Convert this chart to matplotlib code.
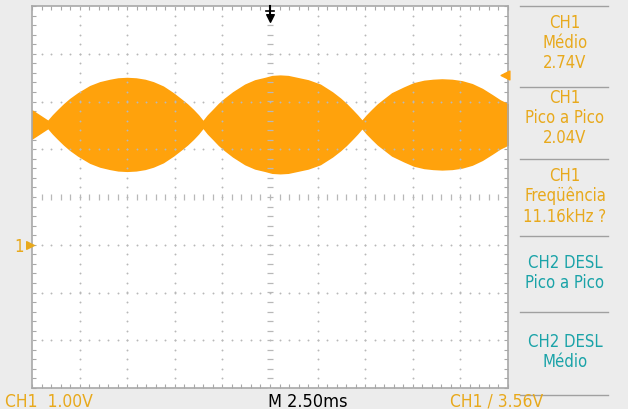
import matplotlib
matplotlib.use("Agg")
import matplotlib.pyplot as plt
from matplotlib.ticker import MultipleLocator
from matplotlib.lines import Line2D
import numpy as np

# ---- data (time in ms, voltage in V relative to CH1 ground) ----
time_ms = [0.00, 0.42, 0.84,
           1.10, 1.37, 1.68, 2.00, 2.42, 3.05, 3.57, 4.10, 4.52, 4.99,
           5.46, 5.93, 6.36, 6.88, 7.41, 7.83, 8.14, 8.46, 8.72, 8.98,
           9.24, 9.51, 9.82, 10.14, 10.56, 11.19, 11.71, 12.24, 12.61, 13.03,
           13.45, 13.92, 14.50, 15.13, 15.76, 16.18, 16.49, 16.81, 17.07, 17.33,
           17.59, 17.86, 18.17, 18.49, 18.91, 19.54, 20.06, 20.59, 21.06, 21.53,
           22.06, 22.58, 23.11, 23.64, 24.16, 24.58, 25.00]
half_amp_v = [0.29, 0.18, 0.07,
              0.19, 0.30, 0.42, 0.53, 0.65, 0.80, 0.88, 0.93, 0.96, 0.97,
              0.96, 0.93, 0.88, 0.79, 0.65, 0.52, 0.42, 0.30, 0.19, 0.06,
              0.19, 0.30, 0.43, 0.54, 0.67, 0.83, 0.92, 0.97, 1.01, 1.02,
              1.01, 0.97, 0.92, 0.83, 0.67, 0.54, 0.43, 0.30, 0.19, 0.07,
              0.19, 0.30, 0.42, 0.52, 0.65, 0.77, 0.86, 0.91, 0.93, 0.94,
              0.93, 0.90, 0.84, 0.74, 0.61, 0.50, 0.42]
dc_level_v = 2.52

time_per_div = 2.5      # ms/div
volts_per_div = 1.0     # V/div
trigger_level = 3.56    # V
trigger_time = 12.5     # ms (screen centre)

panel_ch1 = [["CH1", "Médio", "2.74V"],
             ["CH1", "Pico a Pico", "2.04V"],
             ["CH1", "Freqüência", "11.16kHz ?"]]
panel_ch2 = [["CH2 DESL", "Pico a Pico"],
             ["CH2 DESL", "Médio"]]
bottom_left = "CH1  1.00V"
bottom_mid = "M 2.50ms"
bottom_right = "CH1 / 3.56V"

W, H = 628, 410
ORANGE = "#ffa20c"
TXT_OR = "#e8a91c"
TEAL = "#1aa3a8"
GRID = "#b8b8b8"
FONT = ["DejaVu Sans"]

fig = plt.figure(figsize=(W / 100, H / 100), dpi=100, facecolor="#ececec")
ax = fig.add_axes([32 / W, 21 / H, 476 / W, 382 / H])
ax.set_facecolor("white")
x0, x1 = 0, 10 * time_per_div
y0, y1 = -3, 5
ax.set_xlim(x0, x1)
ax.set_ylim(y0, y1)

# signal band
t = np.array(time_ms)
a = np.array(half_amp_v)
ax.fill_between(t, dc_level_v - a, dc_level_v + a, color=ORANGE, lw=1.2,
                edgecolor=ORANGE, zorder=2)

# dotted graticule
xs_minor = np.arange(x0, x1 + 1e-9, time_per_div / 5)
ys_minor = np.arange(y0, y1 + 1e-9, volts_per_div / 5)
xc = (x0 + x1) / 2
yc = (y0 + y1) / 2
for gx in np.arange(x0 + time_per_div, x1 - 1e-9, time_per_div):
    if abs(gx - xc) < 1e-9:
        continue
    ax.scatter(np.full_like(ys_minor, gx), ys_minor, s=1.9, color=GRID, lw=0, zorder=3)
for gy in np.arange(y0 + volts_per_div, y1 - 1e-9, volts_per_div):
    if abs(gy - yc) < 1e-9:
        continue
    ax.scatter(xs_minor, np.full_like(xs_minor, gy), s=1.9, color=GRID, lw=0, zorder=3)
# centre axes with small dashes
ax.scatter(np.full_like(ys_minor, xc), ys_minor, marker="_", s=14, color=GRID, lw=0.9, zorder=3)
ax.scatter(xs_minor, np.full_like(xs_minor, yc), marker="|", s=14, color=GRID, lw=0.9, zorder=3)

# border ticks
ax.xaxis.set_major_locator(MultipleLocator(time_per_div))
ax.xaxis.set_minor_locator(MultipleLocator(time_per_div / 5))
ax.yaxis.set_major_locator(MultipleLocator(volts_per_div))
ax.yaxis.set_minor_locator(MultipleLocator(volts_per_div / 5))
ax.tick_params(which="both", direction="in", length=3, width=0.8, color="#a8a8a8",
               top=True, right=True, labelbottom=False, labelleft=False)
for sp in ax.spines.values():
    sp.set_color("#a8a8a8")
    sp.set_linewidth(1.2)

# trigger position marker (top)
ax.plot([trigger_time, trigger_time], [y1, y1 - 0.2], color="black", lw=1.5, clip_on=False, zorder=5)
ax.plot([trigger_time - 0.2, trigger_time + 0.2], [y1 - 0.1, y1 - 0.1], color="black", lw=1.2, clip_on=False, zorder=5)
ax.scatter([trigger_time], [y1 - 0.25], marker="v", s=30, color="black", zorder=5, clip_on=False)
# trigger level marker (right)
ax.scatter([x1 - 0.15], [trigger_level], marker="<", s=40, color=ORANGE, zorder=5, clip_on=False)
# ground marker (left)
ax.scatter([x0 - 0.1], [0], marker=">", s=30, color=TXT_OR, zorder=5, clip_on=False)
fig.text(19 / W, 1 - 247 / H, "1", color=TXT_OR, fontsize=12, family=FONT,
         fontstretch="condensed", ha="center", va="center")


def ftext(x, y, s, color, size=12, **kw):
    fig.text(x / W, 1 - y / H, s, color=color, fontsize=size, family=FONT,
             fontstretch="condensed", ha=kw.pop("ha", "center"), va="center", **kw)


# right panel
px = 565
sep_y = [7, 88, 160, 237, 313, 396]
for sy in sep_y:
    fig.add_artist(Line2D([520 / W, 608 / W], [1 - sy / H, 1 - sy / H], color="#a0a0a0", lw=1))
ch1_y = [[23, 43, 63], [98, 118, 138], [176, 196, 217]]
for block, ys in zip(panel_ch1, ch1_y):
    for s, yy in zip(block, ys):
        ftext(px, yy, s, TXT_OR)
ch2_y = [[263, 283], [342, 362]]
for block, ys in zip(panel_ch2, ch2_y):
    for s, yy in zip(block, ys):
        ftext(px, yy, s, TEAL)

# bottom status line
ftext(5, 402, bottom_left, TXT_OR, size=12.5, ha="left")
ftext(268, 402, bottom_mid, "black", size=13, ha="left")
ftext(450, 402, bottom_right, TXT_OR, size=12.5, ha="left")

fig.savefig("out.png", dpi=100, facecolor=fig.get_facecolor())
